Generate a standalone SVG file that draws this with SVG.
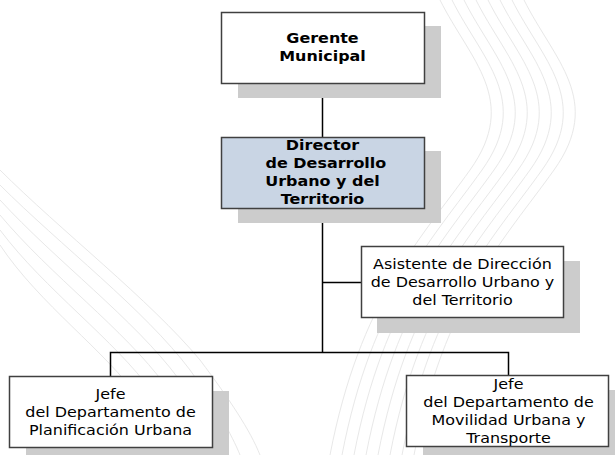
<svg xmlns="http://www.w3.org/2000/svg" width="615" height="455" viewBox="0 0 615 455">
<style>
.bg{fill:none;stroke:#e8e8e8;stroke-width:1}
.sh{fill:#cccccc}
.box{fill:#ffffff;stroke:#404040;stroke-width:1.5}
.blue{fill:#c9d5e4}
.ln{fill:none;stroke:#000;stroke-width:1.5}
.t{font-family:"DejaVu Sans",Verdana,sans-serif;font-size:14px;fill:#000;text-anchor:middle}
.b{font-weight:bold}
</style>
<rect width="615" height="455" fill="#ffffff"/>
<g id="background">
<path class="bg" d="M440 0 C470 60 520 100 470 170 C420 240 360 300 330 455"/>
<path class="bg" d="M452 0 C482 60 532 100 482 170 C432 240 372 300 342 455"/>
<path class="bg" d="M464 0 C494 60 544 100 494 170 C444 240 384 300 354 455"/>
<path class="bg" d="M476 0 C506 60 556 100 506 170 C456 240 396 300 366 455"/>
<path class="bg" d="M488 0 C518 60 568 100 518 170 C468 240 408 300 378 455"/>
<path class="bg" d="M500 0 C530 60 580 100 530 170 C480 240 420 300 390 455"/>
<path class="bg" d="M512 0 C542 60 592 100 542 170 C492 240 432 300 402 455"/>
<path class="bg" d="M524 0 C554 60 604 100 554 170 C504 240 444 300 414 455"/>
<path class="bg" d="M0 170 C60 230 150 300 200 360 C230 400 250 430 260 455"/>
<path class="bg" d="M0 185 C60 245 145 310 190 370 C215 405 232 435 240 455"/>
<path class="bg" d="M0 200 C55 260 135 320 178 378 C200 410 215 440 222 455"/>
<path class="bg" d="M0 215 C50 275 125 330 165 385 C185 415 198 440 204 455"/>
<path class="bg" d="M0 230 C45 290 115 340 152 392 C170 420 180 442 186 455"/>
<path class="bg" d="M0 245 C40 305 105 350 140 400 C155 425 164 445 168 455"/>
</g>
<g id="connectors">
<path class="ln" d="M322.5 83 V138"/>
<path class="ln" d="M322.5 209 V353"/>
<path class="ln" d="M322.5 282.5 H362"/>
<path class="ln" d="M110.5 377 V352.5 H508.5 V376"/>
</g>
<g id="gerente">
<rect class="sh" x="238" y="26" width="203" height="72"/>
<rect class="box" x="221.5" y="12.5" width="203" height="71"/>
<g transform="translate(322.5,0) scale(1.14,1)">
<text class="t b" x="0" y="43">Gerente</text>
<text class="t b" x="0" y="61">Municipal</text>
</g>
</g>
<g id="director">
<rect class="sh" x="238" y="151" width="203" height="72"/>
<rect class="box blue" x="221.5" y="137.5" width="203" height="71"/>
<g transform="translate(322.5,0) scale(1.14,1)">
<text class="t b" x="0" y="150">Director</text>
<text class="t b" x="3" y="168">de Desarrollo</text>
<text class="t b" x="0" y="186">Urbano y del</text>
<text class="t b" x="0" y="204">Territorio</text>
</g>
</g>
<g id="asistente">
<rect class="sh" x="377" y="261" width="203" height="72"/>
<rect class="box" x="361.5" y="246.5" width="202" height="71"/>
<g transform="translate(462.5,0) scale(1.14,1)">
<text class="t" x="0" y="269">Asistente de Dirección</text>
<text class="t" x="0" y="287">de Desarrollo Urbano y</text>
<text class="t" x="0" y="305">del Territorio</text>
</g>
</g>
<g id="planificacion">
<rect class="sh" x="26" y="391" width="203" height="72"/>
<rect class="box" x="9.5" y="376.5" width="203" height="71"/>
<g transform="translate(110.5,0) scale(1.14,1)">
<text class="t" x="0" y="399">Jefe</text>
<text class="t" x="0" y="417">del Departamento de</text>
<text class="t" x="0" y="435">Planificación Urbana</text>
</g>
</g>
<g id="movilidad">
<rect class="sh" x="423" y="390" width="203" height="72"/>
<rect class="box" x="406.5" y="375.5" width="202" height="71"/>
<g transform="translate(508.5,0) scale(1.14,1)">
<text class="t" x="0" y="389">Jefe</text>
<text class="t" x="0" y="407">del Departamento de</text>
<text class="t" x="0" y="425">Movilidad Urbana y</text>
<text class="t" x="0" y="443">Transporte</text>
</g>
</g>
</svg>
